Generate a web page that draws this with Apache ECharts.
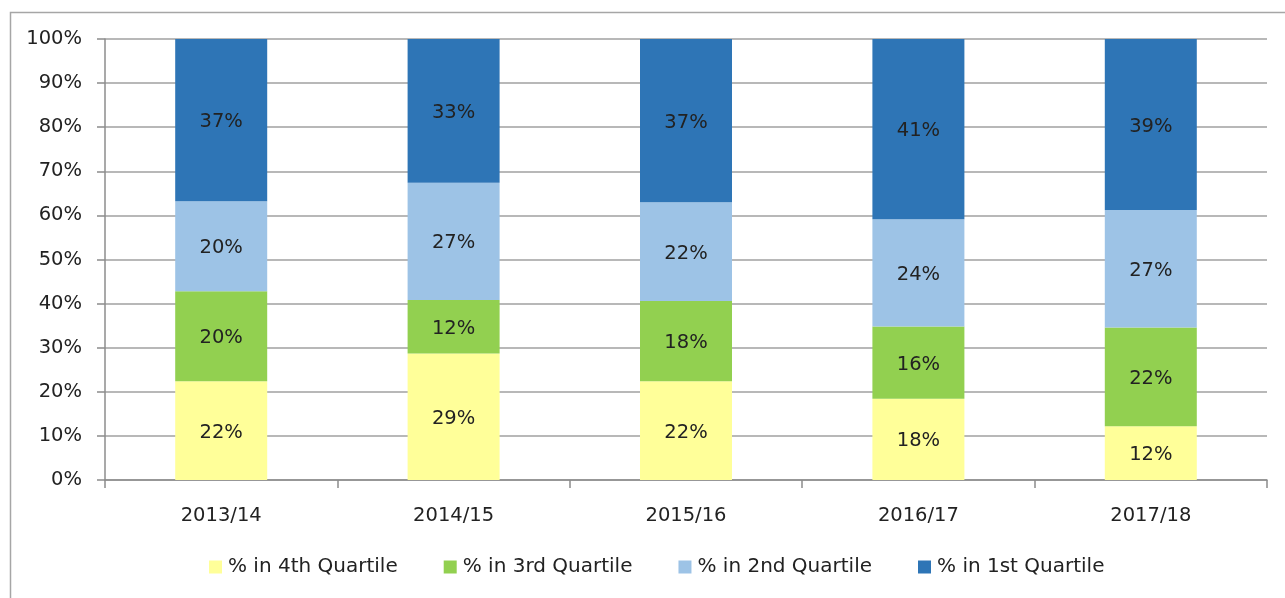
<!DOCTYPE html>
<html>
<head>
<meta charset="utf-8">
<script src="https://cdn.jsdelivr.net/npm/echarts@6/dist/echarts.min.js"></script>
<style>
html,body{margin:0;padding:0;background:#fff;}
#c{width:1285px;height:598px;}
</style>
</head>
<body>
<div id="c"></div>
<script>
var categories = ['2013/14', '2014/15', '2015/16', '2016/17', '2017/18'];
var q4 = [22.4, 28.7, 22.4, 18.4, 12.2];
var q3 = [20.4, 12.1, 18.2, 16.4, 22.4];
var q2 = [20.4, 26.6, 22.4, 24.3, 26.6];
var q1 = [36.8, 32.6, 37.0, 40.9, 38.8];
var seriesNames = ['% in 4th Quartile', '% in 3rd Quartile', '% in 2nd Quartile', '% in 1st Quartile'];
var colors = ['#FFFF99', '#92D050', '#9DC3E6', '#2E75B6'];
var yTicks = [0, 10, 20, 30, 40, 50, 60, 70, 80, 90, 100];

var FONT = 'DejaVu Sans';
var TXT = '#222222';

var chart = echarts.init(document.getElementById('c'), null, {renderer: 'canvas'});
var dataSets = [q4, q3, q2, q1];
var series = dataSets.map(function (d, i) {
  return {
    name: seriesNames[i],
    type: 'bar',
    stack: 'total',
    barWidth: 92,
    data: d,
    itemStyle: {color: colors[i]},
    label: {
      show: true,
      position: 'inside',
      offset: [0, 2],
      color: TXT,
      fontFamily: FONT,
      fontSize: 19.5,
      formatter: function (p) { return Math.round(p.value) + '%'; }
    },
    emphasis: {disabled: true}
  };
});

chart.setOption({
  animation: false,
  backgroundColor: '#ffffff',
  graphic: [{
    type: 'polyline',
    shape: {points: [[10.5, 600], [10.5, 12.5], [1290, 12.5]]},
    style: {stroke: '#a6a6a6', lineWidth: 1.5, fill: null},
    silent: true
  }],
  grid: {left: 105, right: 18, top: 39, bottom: 118, containLabel: false, outerBoundsMode: 'none'},
  legend: {
    data: seriesNames,
    left: 209,
    top: 557,
    padding: 0,
    itemWidth: 13,
    itemHeight: 13,
    itemGap: 46,
    icon: 'rect',
    textStyle: {color: TXT, fontFamily: FONT, fontSize: 20, padding: [0, 0, 0, 1]}
  },
  xAxis: {
    type: 'category',
    data: categories,
    boundaryGap: true,
    axisLine: {show: true, lineStyle: {color: '#8c8c8c', width: 1.5}},
    axisTick: {show: true, alignWithLabel: false, length: 8, lineStyle: {color: '#8c8c8c', width: 1.5}},
    axisLabel: {color: TXT, fontFamily: FONT, fontSize: 19.5, margin: 26},
    splitLine: {show: false}
  },
  yAxis: {
    type: 'value',
    min: yTicks[0],
    max: yTicks[yTicks.length - 1],
    interval: yTicks[1] - yTicks[0],
    axisLine: {show: true, lineStyle: {color: '#8c8c8c', width: 1.5}},
    axisTick: {show: true, length: 8, lineStyle: {color: '#8c8c8c', width: 1.5}},
    axisLabel: {color: TXT, fontFamily: FONT, fontSize: 19.5, margin: 23, formatter: '{value}%'},
    splitLine: {show: true, lineStyle: {color: '#a0a0a0', width: 1.5}}
  },
  series: series
});
</script>
</body>
</html>
